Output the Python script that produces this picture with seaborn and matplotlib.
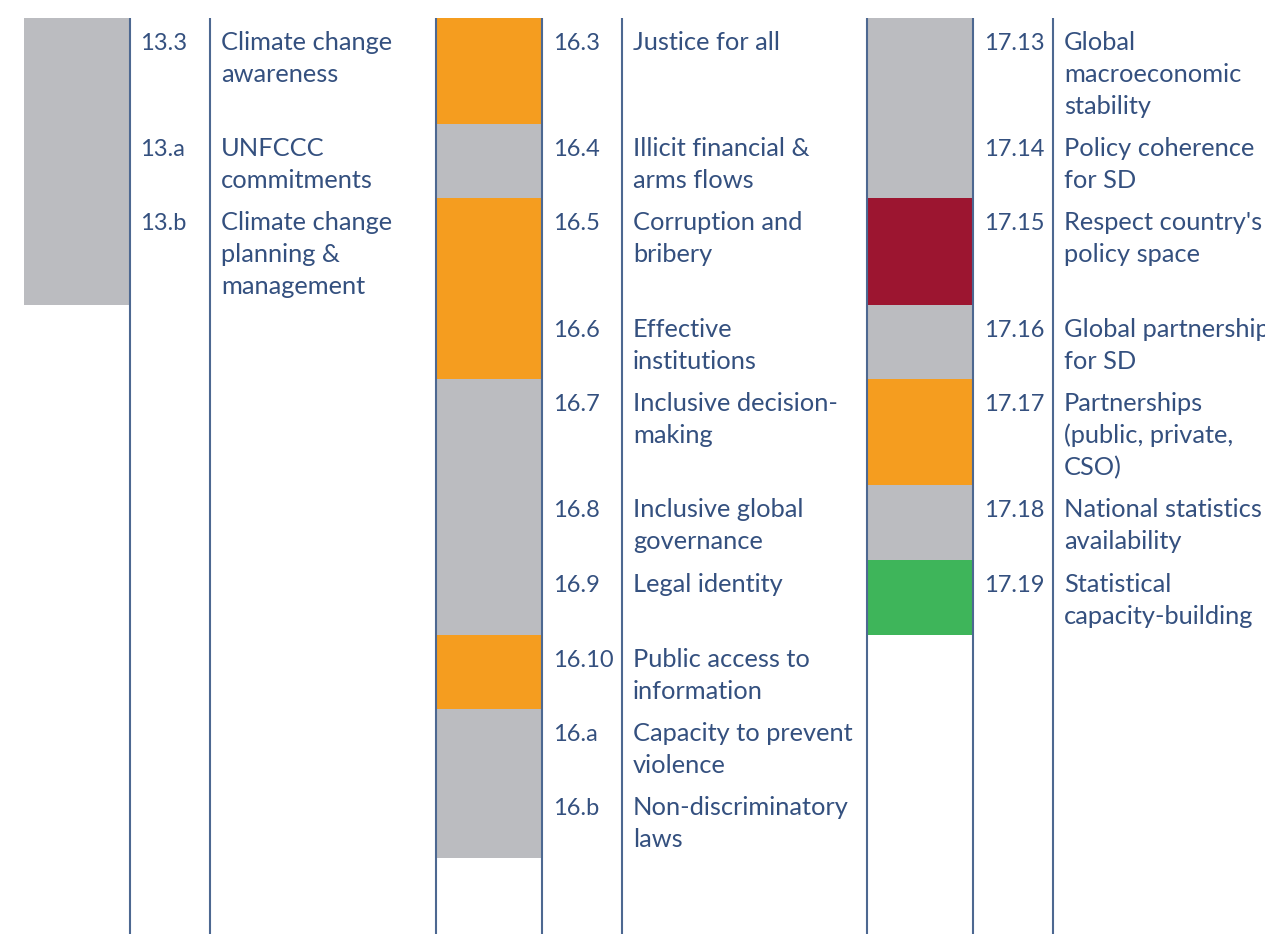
import matplotlib
matplotlib.use("Agg")
import matplotlib.pyplot as plt
import seaborn as sns

# ---- data ----
row_heights = [106, 74, 107, 74, 106, 75, 75, 74, 74, 75]  # shared row grid (px)

col1_codes = ["13.3", "13.a", "13.b"]
col1_labels = ["Climate change\nawareness", "UNFCCC\ncommitments", "Climate change\nplanning &\nmanagement"]
col1_status = ["grey", "grey", "grey"]
col1_rows = [0, 1, 2]

col2_codes = ["16.3", "16.4", "16.5", "16.6", "16.7", "16.8", "16.9", "16.10", "16.a", "16.b"]
col2_labels = ["Justice for all", "Illicit financial &\narms flows", "Corruption and\nbribery",
               "Effective\ninstitutions", "Inclusive decision-\nmaking", "Inclusive global\ngovernance",
               "Legal identity", "Public access to\ninformation", "Capacity to prevent\nviolence",
               "Non-discriminatory\nlaws"]
col2_status = ["orange", "grey", "orange", "orange", "grey", "grey", "grey", "orange", "grey", "grey"]
col2_rows = [0, 1, 2, 3, 4, 5, 6, 7, 8, 9]

col3_codes = ["17.13", "17.14", "17.15", "17.16", "17.17", "17.18", "17.19"]
col3_labels = ["Global\nmacroeconomic\nstability", "Policy coherence\nfor SD", "Respect country's\npolicy space",
               "Global partnership\nfor SD", "Partnerships\n(public, private,\nCSO)", "National statistics\navailability",
               "Statistical\ncapacity-building"]
col3_status = ["grey", "grey", "red", "grey", "orange", "grey", "green"]
col3_rows = [0, 1, 2, 3, 4, 5, 6]

palette = {"grey": "#bbbcc0", "orange": "#f59d1f", "red": "#9c1530", "green": "#3eb55a"}
text_color = "#34507f"
line_color = "#4d6891"

# ---- layout ----
W, H = 1265, 934
top = 18
columns = [
    dict(codes=col1_codes, labels=col1_labels, status=col1_status, rows=col1_rows,
         bar_x=24, bar_w=106, code_x=140, desc_x=221, lines=[130, 210]),
    dict(codes=col2_codes, labels=col2_labels, status=col2_status, rows=col2_rows,
         bar_x=437, bar_w=105, code_x=553, desc_x=633, lines=[436, 542, 622]),
    dict(codes=col3_codes, labels=col3_labels, status=col3_status, rows=col3_rows,
         bar_x=868, bar_w=105, code_x=984, desc_x=1064, lines=[867, 973, 1053]),
]

row_tops = []
y = top
for h in row_heights:
    row_tops.append(y)
    y += h

sns.set_theme(style="white")
plt.rcParams['font.family'] = ['Lato', 'DejaVu Sans']

fig = plt.figure(figsize=(W / 100, H / 100), dpi=100)
ax = fig.add_axes([0, 0, 1, 1])
ax.set_xlim(0, W)
ax.set_ylim(H, 0)
ax.axis("off")

fs = 18.3
fs_code = 17
line_gap = 32
for col in columns:
    for code, label, st, r in zip(col["codes"], col["labels"], col["status"], col["rows"]):
        y0 = row_tops[r]
        h = row_heights[r]
        ax.bar(col["bar_x"], h, width=col["bar_w"], bottom=y0, align="edge",
               color=palette[st], linewidth=0)
        ax.text(col["code_x"], y0 + line_gap, code, fontsize=fs_code, color=text_color,
                va="baseline", ha="left")
        for i, ln in enumerate(label.split("\n")):
            ax.text(col["desc_x"], y0 + line_gap * (i + 1), ln, fontsize=fs,
                    color=text_color, va="baseline", ha="left")
    for lx in col["lines"]:
        ax.plot([lx, lx], [top, H], color=line_color, linewidth=1.5, solid_capstyle="butt")

fig.savefig("out.png", dpi=100)
